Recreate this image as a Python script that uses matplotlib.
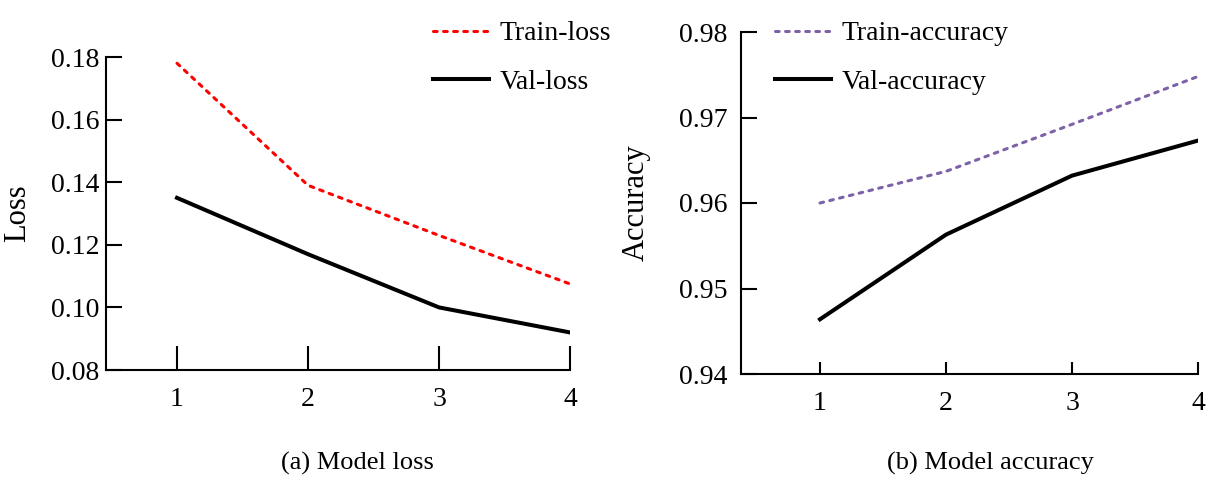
import numpy as np
import matplotlib
matplotlib.use("Agg")
import matplotlib.pyplot as plt

epochs = [1, 2, 3, 4]
train_loss = [0.178, 0.139, 0.123, 0.1075]
val_loss = [0.135, 0.117, 0.100, 0.092]
train_acc = [0.960, 0.9637, 0.9692, 0.9748]
val_acc = [0.9464, 0.9563, 0.9632, 0.9673]
loss_ticks = [0.08, 0.10, 0.12, 0.14, 0.16, 0.18]
acc_ticks = [0.94, 0.95, 0.96, 0.97, 0.98]

plt.rcParams['font.family'] = ['Liberation Serif', 'DejaVu Serif']
plt.rcParams['font.size'] = 20

W, H = 1212, 482
fig = plt.figure(figsize=(W / 100, H / 100), dpi=100)

def px(x0, y0, x1, y1):
    # pixel box -> figure fraction
    return [x0 / W, 1 - y1 / H, (x1 - x0) / W, (y1 - y0) / H]

dots = (0, (1.2, 2.1))
fs = 20

# (a) loss
ax1 = fig.add_axes(px(106, 57, 570, 370))
ax1.plot(epochs, train_loss, color='red', lw=2.2, ls=dots,
         dash_capstyle='round', label='Train-loss')
ax1.plot(epochs, val_loss, color='black', lw=2.9, label='Val-loss')
ax1.set_xlim(0.458, 4)
ax1.set_ylim(0.08, 0.18)
ax1.set_xticks(epochs)
ax1.set_yticks(loss_ticks)
ax1.set_yticklabels(['%.2f' % t for t in loss_ticks])
ax1.tick_params(axis='y', direction='in', length=11.5, width=1.5, pad=5,
                labelsize=fs)
ax1.tick_params(axis='x', direction='in', length=17, width=1.5, pad=12,
                labelsize=fs)
ax1.set_ylabel('Loss', fontsize=22)
ax1.yaxis.set_label_coords(-0.160, 0.5)
ax1.legend(loc='upper left', bbox_to_anchor=(433 / W, 1 - 21 / H),
           bbox_transform=fig.transFigure, frameon=False, borderpad=0,
           borderaxespad=0, handlelength=2.0, handletextpad=0.4,
           labelspacing=0.82, fontsize=fs)

# (b) accuracy
ax2 = fig.add_axes(px(741, 32, 1198, 374))
ax2.plot(epochs, train_acc, color='#7E62A8', lw=2.2, ls=dots,
         dash_capstyle='round', label='Train-accuracy')
ax2.plot(epochs, val_acc, color='black', lw=2.9, label='Val-accuracy')
ax2.set_xlim(0.373, 4)
ax2.set_ylim(0.94, 0.98)
ax2.set_xticks(epochs)
ax2.set_yticks(acc_ticks)
ax2.set_yticklabels(['%.2f' % t for t in acc_ticks])
ax2.tick_params(axis='y', direction='in', length=11.5, width=1.5, pad=10,
                labelsize=fs)
ax2.tick_params(axis='x', direction='in', length=9, width=1.5, pad=12,
                labelsize=fs)
ax2.set_ylabel('Accuracy', fontsize=22)
ax2.yaxis.set_label_coords(-0.197, 0.5)
ax2.legend(loc='upper left', bbox_to_anchor=(775 / W, 1 - 21 / H),
           bbox_transform=fig.transFigure, frameon=False, borderpad=0,
           borderaxespad=0, handlelength=2.0, handletextpad=0.4,
           labelspacing=0.82, fontsize=fs)

for ax in (ax1, ax2):
    ax.spines['top'].set_visible(False)
    ax.spines['right'].set_visible(False)
    ax.spines['left'].set_linewidth(1.5)
    ax.spines['bottom'].set_linewidth(1.5)

fig.text(357 / W, 1 - 463 / H, '(a) Model loss', ha='center', va='center',
         fontsize=19)
fig.text(990 / W, 1 - 463 / H, '(b) Model accuracy', ha='center',
         va='center', fontsize=19)

fig.savefig('out.png', dpi=100)
